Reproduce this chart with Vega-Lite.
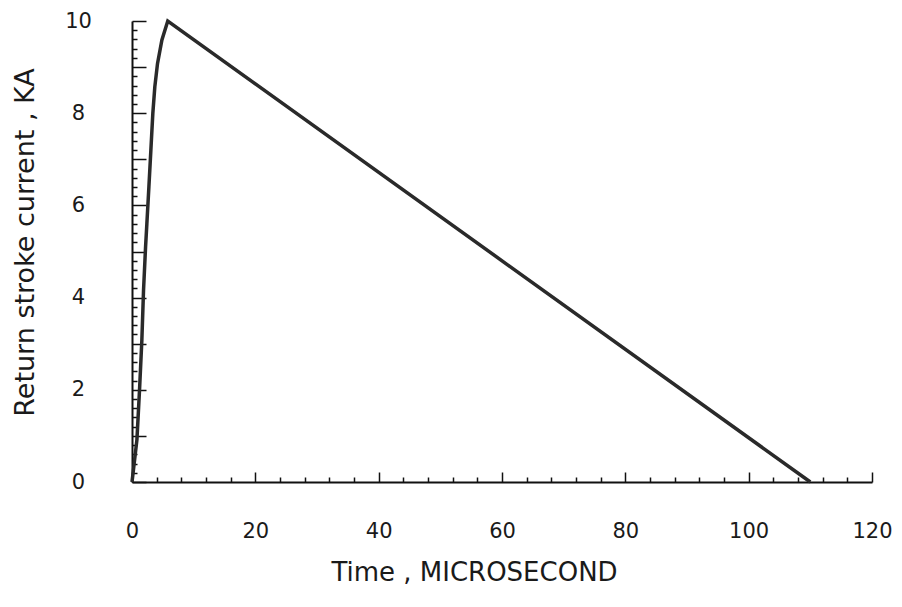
{
  "$schema": "https://vega.github.io/schema/vega-lite/v6.json",
  "autosize": "none",
  "width": 740,
  "height": 461,
  "padding": {"left": 132, "top": 21, "right": 30, "bottom": 125},
  "background": "white",
  "config": {"view": {"stroke": null}},
  "data": {"values": [
    {"t": 0, "i": 0},
    {"t": 0.25, "i": 0.28},
    {"t": 0.8, "i": 0.92},
    {"t": 1.22, "i": 2.0},
    {"t": 1.6, "i": 3.08},
    {"t": 1.87, "i": 4.16},
    {"t": 2.2, "i": 5.1},
    {"t": 2.41, "i": 5.6},
    {"t": 2.74, "i": 6.4},
    {"t": 3.06, "i": 7.2},
    {"t": 3.38, "i": 8.0},
    {"t": 3.7, "i": 8.57},
    {"t": 4.14, "i": 9.08},
    {"t": 4.85, "i": 9.59},
    {"t": 5.8, "i": 10.0},
    {"t": 110, "i": 0}
  ]},
  "layer": [
    {
      "mark": {"type": "line", "color": "#2a2a2a", "strokeWidth": 3.5, "strokeJoin": "miter"},
      "encoding": {
        "x": {"field": "t", "type": "quantitative", "scale": {"domain": [0, 120], "nice": false, "zero": false},
          "axis": {"orient": "bottom", "values": [0, 20, 40, 60, 80, 100, 120], "ticks": false, "grid": false,
            "domain": true, "domainColor": "#111", "domainWidth": 2,
            "labelFont": "DejaVu Sans", "labelFontSize": 21, "labelColor": "#1a1a1a", "labelPadding": 49,
            "labelBaseline": "middle", "labelFlush": false,
            "title": "Time , MICROSECOND", "titleFont": "DejaVu Sans", "titleFontSize": 26, "titleFontWeight": "normal",
            "titleColor": "#1a1a1a", "titleX": 342, "titleY": 90, "titleBaseline": "middle", "titleAlign": "center"}},
        "y": {"field": "i", "type": "quantitative", "scale": {"domain": [0, 10], "nice": false, "zero": false},
          "axis": {"orient": "left", "values": [0, 2, 4, 6, 8, 10], "ticks": false, "grid": false,
            "domain": true, "domainColor": "#111", "domainWidth": 2,
            "labelFont": "DejaVu Sans", "labelFontSize": 21, "labelColor": "#1a1a1a", "labelPadding": 54,
            "labelAlign": "center", "labelBaseline": "middle", "labelFlush": false,
            "title": "Return stroke current , KA", "titleFont": "DejaVu Sans", "titleFontSize": 27, "titleFontWeight": "normal",
            "titleColor": "#1a1a1a", "titleX": -107, "titleY": 221, "titleAngle": -90, "titleBaseline": "middle", "titleAlign": "center"}}
      }
    },
    {
      "mark": {"type": "line", "strokeOpacity": 0},
      "encoding": {
        "x": {"field": "t", "type": "quantitative",
          "axis": {"orient": "bottom", "values": [0, 20, 40, 60, 80, 100, 120], "ticks": true, "tickSize": -10, "tickWidth": 1.5, "tickColor": "#111",
            "labels": false, "domain": false, "grid": false, "title": null}},
        "y": {"field": "i", "type": "quantitative",
          "axis": {"orient": "left", "values": [0, 1, 2, 3, 4, 5, 6, 7, 8, 9, 10], "ticks": true, "tickSize": -14, "tickWidth": 1.5, "tickColor": "#111",
            "labels": false, "domain": false, "grid": false, "title": null}}
      }
    },
    {
      "mark": {"type": "line", "strokeOpacity": 0},
      "encoding": {
        "x": {"field": "t", "type": "quantitative",
          "axis": {"orient": "bottom", "values": [4, 8, 12, 16, 24, 28, 32, 36, 44, 48, 52, 56, 64, 68, 72, 76, 84, 88, 92, 96, 104, 108, 112, 116], "ticks": true, "tickSize": -5, "tickWidth": 1.5, "tickColor": "#111",
            "labels": false, "domain": false, "grid": false, "title": null}},
        "y": {"field": "i", "type": "quantitative",
          "axis": {"orient": "left", "values": [0.2, 0.4, 0.6, 0.8, 1.2, 1.4, 1.6, 1.8, 2.2, 2.4, 2.6, 2.8, 3.2, 3.4, 3.6, 3.8, 4.2, 4.4, 4.6, 4.8, 5.2, 5.4, 5.6, 5.8, 6.2, 6.4, 6.6, 6.8, 7.2, 7.4, 7.6, 7.8, 8.2, 8.4, 8.6, 8.8, 9.2, 9.4, 9.6, 9.8], "ticks": true, "tickSize": -5, "tickWidth": 1.5, "tickColor": "#111",
            "labels": false, "domain": false, "grid": false, "title": null}}
      }
    }
  ],
  "resolve": {"axis": {"x": "independent", "y": "independent"}}
}
